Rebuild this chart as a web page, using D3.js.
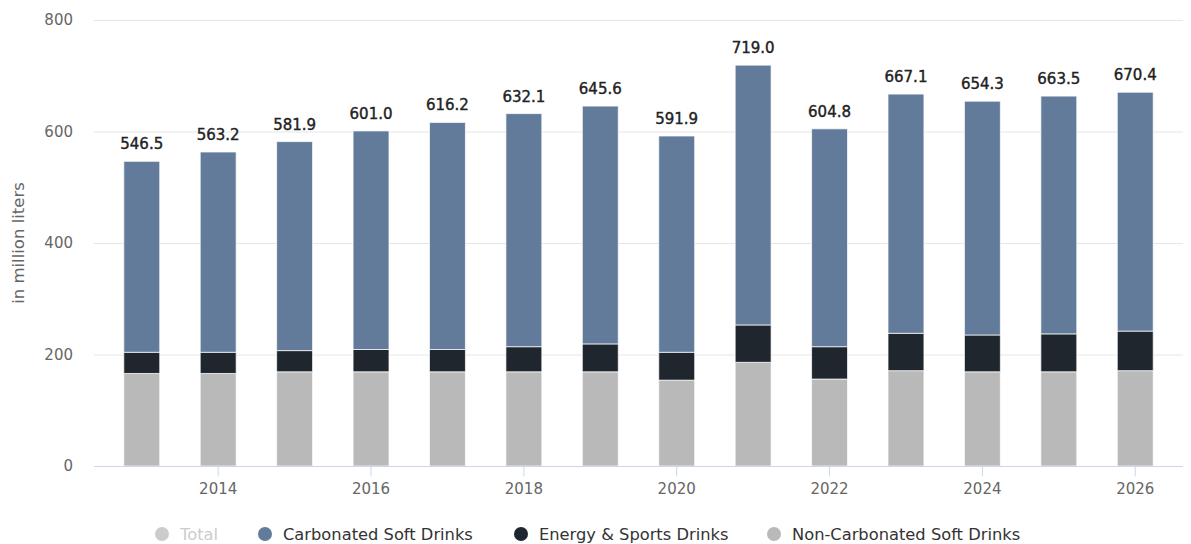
<!DOCTYPE html>
<html>
<head>
<meta charset="utf-8">
<script src="https://cdn.jsdelivr.net/npm/d3@7"></script>
<style>
  body { margin: 0; background: #fff; }
  svg { font-family: "DejaVu Sans", sans-serif; }
</style>
</head>
<body>
<svg id="chart" width="1191" height="544"></svg>
<script>
// Data
const years = [2013, 2014, 2015, 2016, 2017, 2018, 2019, 2020, 2021, 2022, 2023, 2024, 2025, 2026];
const totals = [546.5, 563.2, 581.9, 601.0, 616.2, 632.1, 645.6, 591.9, 719.0, 604.8, 667.1, 654.3, 663.5, 670.4];
const nonCarbonated = [166, 166, 169, 169, 169, 169, 169, 154, 186, 156, 171, 169, 169, 171];
const energySports = [38, 38, 38, 40, 40, 45, 50, 50, 67, 58, 67, 66, 68, 71];
const carbonated = totals.map((t, i) => +(t - nonCarbonated[i] - energySports[i]).toFixed(1));
const yTicks = [0, 200, 400, 600, 800];
const xTicks = [2014, 2016, 2018, 2020, 2022, 2024, 2026];

const seriesNames = ["Non-Carbonated Soft Drinks", "Energy & Sports Drinks", "Carbonated Soft Drinks"];
const colors = {
    "Non-Carbonated Soft Drinks": "#b9b9b9",
    "Energy & Sports Drinks": "#1f262e",
    "Carbonated Soft Drinks": "#637b9b"
};

// Build rows for the stack
let rows = years.map(function (y, i) {
    return {
        year: y,
        "Non-Carbonated Soft Drinks": nonCarbonated[i],
        "Energy & Sports Drinks": energySports[i],
        "Carbonated Soft Drinks": carbonated[i]
    };
});

let svg = d3.select("#chart");

let plotLeft = 94, plotRight = 1183, plotTop = 20, plotBottom = 466;

let x = d3.scaleBand()
    .domain(years)
    .range([plotLeft, plotRight])
    .paddingInner(0.53)
    .paddingOuter(0.39);

let y = d3.scaleLinear()
    .domain([0, 800])
    .range([plotBottom, plotTop]);

// Gridlines
svg.append("g")
    .selectAll("line")
    .data(yTicks.filter(d => d > 0))
    .enter().append("line")
    .attr("x1", plotLeft)
    .attr("x2", plotRight)
    .attr("y1", d => y(d) + 0.5)
    .attr("y2", d => y(d) + 0.5)
    .attr("stroke", "#e6e6e6");

// Y axis labels
svg.append("g")
    .selectAll("text")
    .data(yTicks)
    .enter().append("text")
    .attr("x", 73)
    .attr("y", d => y(d) + 5)
    .attr("text-anchor", "end")
    .attr("fill", "#666")
    .style("font-size", "15px")
    .text(d => d);

// Y axis title
svg.append("text")
    .attr("transform", "translate(24," + 243 + ") rotate(-90)")
    .attr("text-anchor", "middle")
    .attr("fill", "#666")
    .style("font-size", "16.5px")
    .text("in million liters");

// Stacked bars
let stack = d3.stack().keys(seriesNames);
let layers = stack(rows);

svg.append("g")
    .selectAll("g")
    .data(layers)
    .enter().append("g")
    .attr("fill", d => colors[d.key])
    .selectAll("rect")
    .data(d => d)
    .enter().append("rect")
    .attr("x", d => x(d.data.year))
    .attr("width", x.bandwidth())
    .attr("y", d => y(d[1]))
    .attr("height", d => y(d[0]) - y(d[1]))
    .attr("stroke", "#fff")
    .attr("stroke-opacity", 0.7)
    .attr("stroke-width", 1);

// X axis
let xAxis = d3.axisBottom(x)
    .tickValues(xTicks)
    .tickSize(10)
    .tickSizeOuter(0);

let xg = svg.append("g")
    .attr("transform", "translate(0," + (plotBottom + 0.5) + ")")
    .call(xAxis);
xg.select(".domain").attr("stroke", "#ccd6eb").attr("d", "M" + plotLeft + ",0H" + plotRight);
xg.selectAll(".tick line").attr("stroke", "#ccd6eb");
xg.selectAll(".tick text")
    .attr("fill", "#666")
    .attr("dy", null)
    .attr("y", 27.5)
    .style("font-size", "15px")
    .style("font-family", "\"DejaVu Sans\", sans-serif");

// Total labels
svg.append("g")
    .selectAll("text")
    .data(rows)
    .enter().append("text")
    .attr("x", d => x(d.year) + x.bandwidth() / 2)
    .attr("y", (d, i) => y(totals[i]) - 12)
    .attr("text-anchor", "middle")
    .attr("fill", "#222")
    .attr("stroke", "#222")
    .attr("stroke-width", 0.4)
    .style("font-size", "15px")
    .text((d, i) => totals[i].toFixed(1));

// Legend
const legendItems = [
    { name: "Total", color: "#cccccc", text: "#cccccc", x: 162 },
    { name: "Carbonated Soft Drinks", color: colors["Carbonated Soft Drinks"], text: "#333", x: 265 },
    { name: "Energy & Sports Drinks", color: colors["Energy & Sports Drinks"], text: "#333", x: 521 },
    { name: "Non-Carbonated Soft Drinks", color: colors["Non-Carbonated Soft Drinks"], text: "#333", x: 774 }
];

let legend = svg.append("g")
    .selectAll("g")
    .data(legendItems)
    .enter().append("g")
    .attr("transform", d => "translate(" + d.x + ",534)");

legend.append("circle")
    .attr("r", 7)
    .attr("fill", d => d.color);

legend.append("text")
    .attr("x", 18)
    .attr("y", 6)
    .attr("fill", d => d.text)
    .style("font-size", "16.3px")
    .text(d => d.name);
</script>
</body>
</html>
